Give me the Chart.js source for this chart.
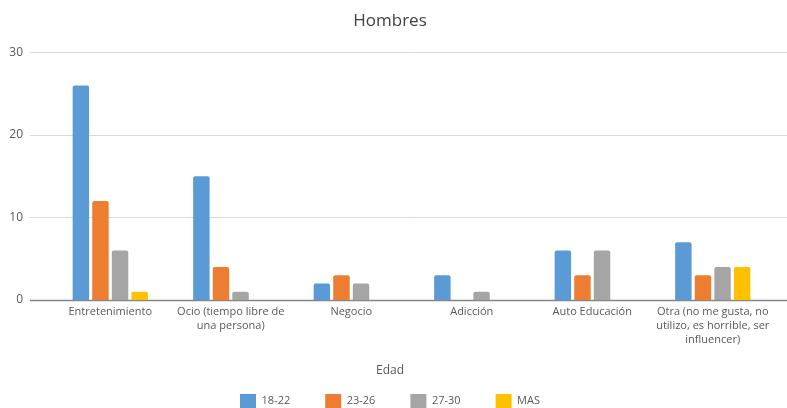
<!DOCTYPE html>
<html>
<head>
<meta charset="utf-8">
<script src="https://cdn.jsdelivr.net/npm/chart.js@4/dist/chart.umd.min.js"></script>
<style>
  html, body { margin: 0; padding: 0; background: #fff; }
  /* el lienzo es algo más alto que la vista: la leyenda queda recortada abajo */
  #wrap { width: 787px; height: 408px; overflow: hidden; }
  #inner { width: 787px; height: 418px; }
</style>
</head>
<body>
<div id="wrap"><div id="inner"><canvas id="chart-hombres"></canvas></div></div>
<script>
// Categorías (eje X) y series por rango de edad
const categorias = [
    'Entretenimiento',
    ['Ocio (tiempo libre de', 'una persona)'],
    'Negocio',
    'Adicción',
    'Auto Educación',
    ['Otra (no me gusta, no', 'utilizo, es horrible, ser', 'influencer)']
];
const edades = ['18-22', '23-26', '27-30', 'MAS'];
const valores1822 = [26, 15, 2, 3, 6, 7];
const valores2326 = [12, 4, 3, 0, 3, 3];
const valores2730 = [6, 1, 2, 1, 6, 4];
const valoresMas = [1, 0, 0, 0, 0, 4];
const ticksY = [0, 10, 20, 30];

const colores = ['#5B9BD5', '#ED7D31', '#A5A5A5', '#FFC000'];
const series = [valores1822, valores2326, valores2730, valoresMas];

const FONT = '"Open Sans", "Segoe UI", sans-serif';

// Líneas de cuadrícula a todo el ancho (como en Excel)
const gridPlugin = {
    id: 'fullGrid',
    beforeDatasetsDraw(chart) {
        const { ctx, scales: { y } } = chart;
        ctx.save();
        y.ticks.forEach(t => {
            const py = Math.round(y.getPixelForValue(t.value)) + 0.5;
            ctx.beginPath();
            ctx.strokeStyle = t.value === 0 ? '#868686' : '#d9d9d9';
            ctx.lineWidth = t.value === 0 ? 1.5 : 1;
            ctx.moveTo(30, py);
            ctx.lineTo(chart.width, py);
            ctx.stroke();
        });
        ctx.restore();
    }
};

new Chart(document.getElementById('chart-hombres'), {
    type: 'bar',
    data: {
        labels: categorias,
        datasets: edades.map((e, i) => ({
            label: e,
            data: series[i],
            backgroundColor: colores[i],
            borderRadius: 2,
            borderSkipped: 'bottom',
            categoryPercentage: 0.65,
            barPercentage: 0.84
        }))
    },
    options: {
        responsive: true,
        maintainAspectRatio: false,
        animation: false,
        layout: { padding: { left: 7, right: 14, top: 0, bottom: 0 } },
        plugins: {
            title: {
                display: true,
                text: 'Hombres',
                color: '#404040',
                font: { family: FONT, size: 17, weight: 'normal' },
                padding: { top: 11, bottom: 21 }
            },
            legend: {
                position: 'bottom',
                title: {
                    display: true,
                    text: 'Edad',
                    color: '#595959',
                    font: { family: FONT, size: 12 },
                    padding: { top: 16.6, bottom: -20 }
                },
                labels: {
                    boxWidth: 16,
                    boxHeight: 14,
                    padding: 35,
                    color: '#595959',
                    font: { family: FONT, size: 11 }
                }
            },
            tooltip: { enabled: false }
        },
        scales: {
            x: {
                afterFit(scale) { scale.height = 48; },
                grid: { display: false, drawTicks: false },
                border: { display: false },
                ticks: {
                    color: '#595959',
                    font: { family: FONT, size: 11, lineHeight: 1.27 },
                    maxRotation: 0,
                    autoSkip: false,
                    padding: 5
                }
            },
            y: {
                min: 0,
                max: 30,
                afterBuildTicks(scale) {
                    scale.ticks = ticksY.map(v => ({ value: v }));
                },
                afterFit(scale) { scale.width = 43; },
                grid: { display: false, drawTicks: false },
                border: { display: false },
                ticks: {
                    color: '#595959',
                    font: { family: FONT, size: 12 },
                    padding: 27
                }
            }
        }
    },
    plugins: [gridPlugin]
});
</script>
</body>
</html>
